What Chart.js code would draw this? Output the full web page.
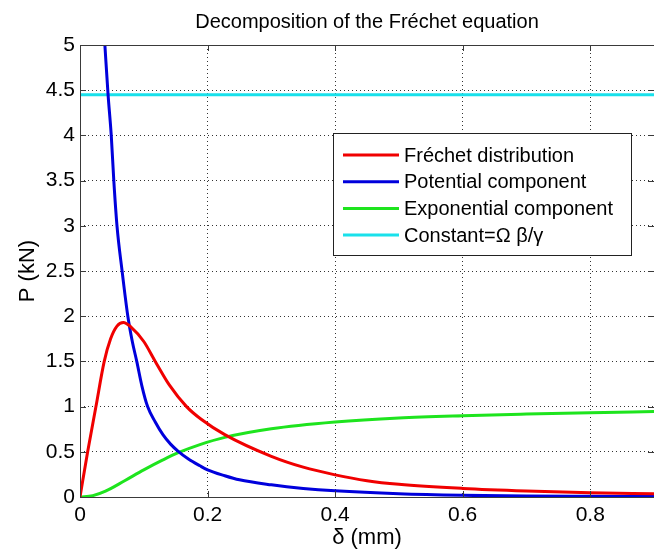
<!DOCTYPE html>
<html>
<head>
<meta charset="utf-8">
<script src="https://cdn.jsdelivr.net/npm/chart.js@4/dist/chart.umd.min.js"></script>
<style>
  body { margin: 0; background: #fff; }
  #wrap { width: 654px; height: 553px; }
</style>
</head>
<body>
<div id="wrap"><canvas id="chart" width="654" height="553"></canvas></div>
<script>
// values
const frechetX = [0, 0.012, 0.025, 0.038, 0.048, 0.058, 0.068, 0.08, 0.1, 0.118, 0.14, 0.167, 0.19, 0.227, 0.3, 0.35, 0.4, 0.45, 0.5, 0.6, 0.7, 0.8, 0.9];
const frechet = [0, 0.5, 1.0, 1.5, 1.75, 1.89, 1.93, 1.88, 1.72, 1.5, 1.24, 1.0, 0.86, 0.69, 0.45, 0.33, 0.245, 0.18, 0.14, 0.095, 0.067, 0.048, 0.035];

const potentialX = [0.039, 0.044, 0.049, 0.053, 0.058, 0.066, 0.075, 0.082, 0.089, 0.097, 0.106, 0.118, 0.13, 0.142, 0.154, 0.17, 0.188, 0.2, 0.227, 0.25, 0.3, 0.35, 0.4, 0.5, 0.6, 0.7, 0.8, 0.9];
const potential = [5.0, 4.45, 4.0, 3.5, 3.0, 2.5, 2.0, 1.72, 1.5, 1.23, 1.0, 0.83, 0.69, 0.585, 0.505, 0.42, 0.345, 0.3, 0.235, 0.19, 0.135, 0.095, 0.068, 0.035, 0.018, 0.01, 0.007, 0.005];

const exponentialX = [0, 0.02, 0.04, 0.07, 0.1, 0.13, 0.154, 0.188, 0.227, 0.3, 0.4, 0.5, 0.6, 0.7, 0.8, 0.9];
const exponential = [0, 0.015, 0.065, 0.18, 0.3, 0.41, 0.49, 0.58, 0.66, 0.755, 0.83, 0.875, 0.9, 0.918, 0.933, 0.945];

const constantX = [0, 0.9];
const constantValue = 4.45;

const seriesLabels = ['Fréchet distribution', 'Potential component', 'Exponential component', 'Constant=Ω β/γ'];
const seriesColors = ['rgb(240,0,0)', 'rgb(0,0,220)', 'rgb(30,228,30)', 'rgb(25,225,235)'];

const xTickValues = [0, 0.2, 0.4, 0.6, 0.8];
const xTickLabels = ['0', '0.2', '0.4', '0.6', '0.8'];
const yTickLabels = ['0', '0.5', '1', '1.5', '2', '2.5', '3', '3.5', '4', '4.5', '5'];

const pts = (xs, ys) => xs.map((x, i) => ({ x: x, y: ys[i] }));

// box round the axes plus little inside tick marks, like matlab
const framePlugin = {
  id: 'frame',
  afterDatasetsDraw(chart) {
    const { ctx, chartArea: a, scales } = chart;
    ctx.save();
    ctx.strokeStyle = '#3a3a3a';
    ctx.lineWidth = 1;
    ctx.strokeRect(a.left + 0.5, a.top + 0.5, a.right - a.left, a.bottom - a.top);
    ctx.beginPath();
    xTickValues.forEach(v => {
      const x = Math.round(scales.x.getPixelForValue(v)) + 0.5;
      ctx.moveTo(x, a.bottom); ctx.lineTo(x, a.bottom - 6);
      ctx.moveTo(x, a.top); ctx.lineTo(x, a.top + 6);
    });
    scales.y.ticks.forEach(t => {
      const y = Math.round(scales.y.getPixelForValue(t.value)) + 0.5;
      ctx.moveTo(a.left, y); ctx.lineTo(a.left + 6, y);
      ctx.moveTo(a.right, y); ctx.lineTo(a.right - 6, y);
    });
    ctx.stroke();
    ctx.restore();
  }
};

// legend box drawn inside the plot
const boxLegend = {
  id: 'boxLegend',
  afterDraw(chart) {
    const ctx = chart.ctx;
    const x0 = 333, y0 = 133, w = 298, h = 122;
    ctx.save();
    ctx.fillStyle = '#fff';
    ctx.fillRect(x0, y0, w, h);
    ctx.strokeStyle = '#222';
    ctx.lineWidth = 1;
    ctx.strokeRect(x0 + 0.5, y0 + 0.5, w, h);
    ctx.font = '20px "Liberation Sans", Arial, sans-serif';
    ctx.textBaseline = 'middle';
    chart.data.datasets.forEach((ds, i) => {
      const y = y0 + 22 + i * 26.7;
      ctx.strokeStyle = ds.borderColor;
      ctx.lineWidth = 3;
      ctx.beginPath();
      ctx.moveTo(x0 + 10, y);
      ctx.lineTo(x0 + 66, y);
      ctx.stroke();
      ctx.fillStyle = '#000';
      ctx.fillText(ds.label, x0 + 71, y + 1);
    });
    ctx.restore();
  }
};

const lineStyle = (i) => ({
  label: seriesLabels[i],
  borderColor: seriesColors[i],
  backgroundColor: seriesColors[i],
  borderWidth: 3,
  pointRadius: 0,
  fill: false,
  cubicInterpolationMode: 'monotone'
});

new Chart(document.getElementById('chart'), {
  type: 'line',
  data: {
    datasets: [
      Object.assign(lineStyle(0), { data: pts(frechetX, frechet) }),
      Object.assign(lineStyle(1), { data: pts(potentialX, potential) }),
      Object.assign(lineStyle(2), { data: pts(exponentialX, exponential) }),
      Object.assign(lineStyle(3), { data: pts(constantX, constantX.map(() => constantValue)) })
    ]
  },
  options: {
    responsive: false,
    animation: false,
    layout: { padding: 0 },
    plugins: {
      legend: { display: false },
      tooltip: { enabled: false },
      title: {
        display: true,
        text: 'Decomposition of the Fréchet equation',
        color: '#000',
        fullSize: false,
        font: { family: '"Liberation Sans", Arial, sans-serif', size: 20, weight: 'normal' },
        padding: { top: 10, bottom: 11 }
      }
    },
    scales: {
      x: {
        type: 'linear',
        min: 0,
        max: 0.9,
        afterBuildTicks: (scale) => { scale.ticks = xTickValues.map(v => ({ value: v })); },
        afterFit: (scale) => { scale.height = 56; },
        ticks: {
          color: '#000',
          padding: 6,
          maxRotation: 0,
          font: { family: '"Liberation Sans", Arial, sans-serif', size: 21 },
          callback: (v) => xTickLabels[xTickValues.indexOf(v)]
        },
        grid: { color: '#333', lineWidth: 1, drawTicks: false },
        border: { display: false, dash: [1, 3] },
        title: {
          display: true,
          text: 'δ (mm)',
          color: '#000',
          font: { family: '"Liberation Sans", Arial, sans-serif', size: 22 },
          padding: { top: 0, bottom: 2 }
        }
      },
      y: {
        min: 0,
        max: 5,
        afterFit: (scale) => { scale.width = 80; },
        ticks: {
          stepSize: 0.5,
          color: '#000',
          padding: 5,
          font: { family: '"Liberation Sans", Arial, sans-serif', size: 21 },
          callback: (v) => yTickLabels[Math.round(v * 2)]
        },
        grid: { color: '#333', lineWidth: 1, drawTicks: false },
        border: { display: false, dash: [1, 3] },
        title: {
          display: true,
          text: 'P (kN)',
          color: '#000',
          font: { family: '"Liberation Sans", Arial, sans-serif', size: 22 },
          padding: { top: 15, bottom: 0 }
        }
      }
    }
  },
  plugins: [framePlugin, boxLegend]
});
</script>
</body>
</html>
